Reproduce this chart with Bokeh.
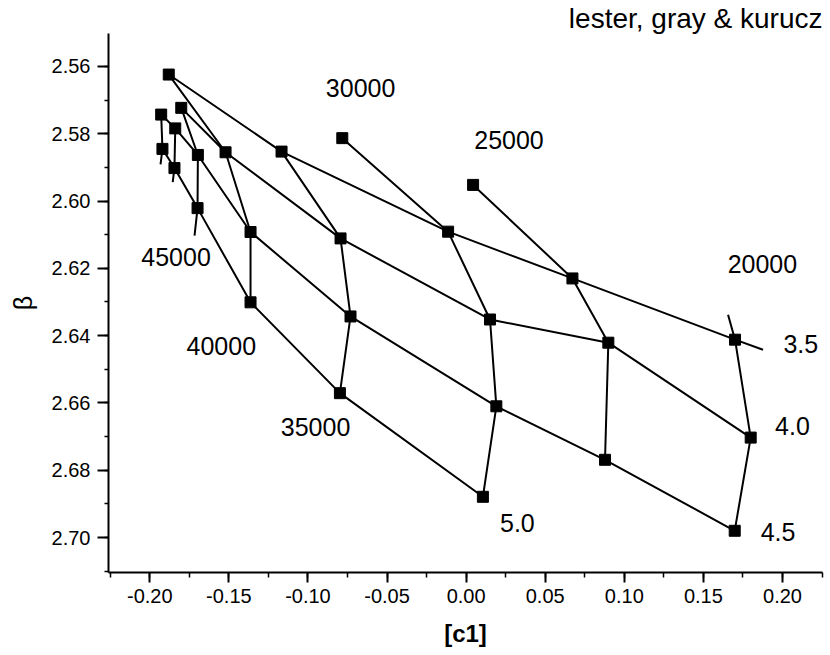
from bokeh.plotting import figure
from bokeh.models import Range1d, FixedTicker, PrintfTickFormatter
from bokeh.core.properties import value
from bokeh.embed import file_html
from bokeh.resources import INLINE

# ---- model grid ----
teff = [20000, 20000, 20000,
        25000, 25000, 25000, 25000,
        30000, 30000, 30000, 30000, 30000,
        35000, 35000, 35000, 35000,
        40000, 40000, 40000, 40000,
        45000, 45000, 45000,
        50000, 50000,
        55000, 55000]
logg = [3.5, 4.0, 4.5,
        3.0, 3.5, 4.0, 4.5,
        3.0, 3.5, 4.0, 4.5, 5.0,
        3.5, 4.0, 4.5, 5.0,
        3.5, 4.0, 4.5, 5.0,
        4.0, 4.5, 5.0,
        4.5, 5.0,
        4.5, 5.0]
c1 = [0.1700, 0.1799, 0.1698,
      0.0044, 0.0672, 0.0899, 0.0878,
      -0.0783, -0.0114, 0.0151, 0.0191, 0.0106,
      -0.1167, -0.0794, -0.0731, -0.0798,
      -0.1880, -0.1521, -0.1363, -0.1363,
      -0.1801, -0.1696, -0.1698,
      -0.1839, -0.1844,
      -0.1928, -0.1920]
beta = [2.6412, 2.6703, 2.6980,
        2.5952, 2.6230, 2.6421, 2.6769,
        2.5813, 2.6091, 2.6352, 2.6610, 2.6879,
        2.5853, 2.6111, 2.6343, 2.6571,
        2.5624, 2.5855, 2.6092, 2.6301,
        2.5723, 2.5863, 2.6021,
        2.5784, 2.5902,
        2.5743, 2.5845]

# line ends drawn without a marker
teff_stub_teff = [20000, 45000, 50000, 55000]
teff_stub_logg = [3.0, 5.5, 5.5, 5.5]
teff_stub_c1 = [0.1656, -0.1717, -0.1855, -0.1932]
teff_stub_beta = [2.6338, 2.6103, 2.5944, 2.5891]
logg_stub_logg = [3.5]
logg_stub_c1 = [0.1877]
logg_stub_beta = [2.6442]

# annotations
teff_labels = ["30000", "25000", "20000", "45000", "40000", "35000"]
teff_label_c1 = [-0.0667, 0.0271, 0.1873, -0.1834, -0.1548, -0.0952]
teff_label_beta = [2.5664, 2.5818, 2.6187, 2.6167, 2.6430, 2.6673]
logg_labels = ["3.5", "4.0", "4.5", "5.0"]
logg_label_c1 = [0.2116, 0.2063, 0.1972, 0.0324]
logg_label_beta = [2.6425, 2.6668, 2.6983, 2.6956]

x_ticks = [-0.20, -0.15, -0.10, -0.05, 0.00, 0.05, 0.10, 0.15, 0.20]
y_ticks = [2.56, 2.58, 2.60, 2.62, 2.64, 2.66, 2.68, 2.70]

FONT = "Liberation Sans"

p = figure(width=830, height=655,
           x_range=Range1d(-0.2261, 0.2253),
           y_range=Range1d(2.7104, 2.5502),
           output_backend="svg", toolbar_location=None,
           min_border_left=108, min_border_right=8,
           min_border_top=33, min_border_bottom=83,
           title="lester, gray & kurucz")
p.title.align = "right"
p.title.text_font = FONT
p.title.text_font_size = "28px"
p.title.text_font_style = "normal"
p.title.text_color = "black"
p.title.standoff = 0
p.title.offset = 0

p.outline_line_color = None
p.xgrid.visible = False
p.ygrid.visible = False
p.background_fill_color = "white"
p.border_fill_color = "white"

LW = 2
# lines of constant Teff
for t in sorted(set(teff)):
    pts = [(g, x, y) for tt, g, x, y in zip(teff, logg, c1, beta) if tt == t]
    pts += [(g, x, y) for tt, g, x, y in zip(teff_stub_teff, teff_stub_logg, teff_stub_c1, teff_stub_beta) if tt == t]
    pts.sort()
    p.line([q[1] for q in pts], [q[2] for q in pts], line_color="black", line_width=LW)

# lines of constant log g (3.0 not connected)
for g in sorted(set(logg)):
    if g == 3.0:
        continue
    pts = [(-tt, x, y) for tt, gg, x, y in zip(teff, logg, c1, beta) if gg == g]
    pts.sort()
    xs = [q[1] for q in pts]
    ys = [q[2] for q in pts]
    for gg, x, y in zip(logg_stub_logg, logg_stub_c1, logg_stub_beta):
        if gg == g:
            xs.append(x)
            ys.append(y)
    p.line(xs, ys, line_color="black", line_width=LW)

p.scatter(c1, beta, marker="square", size=11, fill_color="black", line_color="black")

p.text(teff_label_c1, teff_label_beta, text=teff_labels, text_align="center",
       text_baseline="middle", text_font=value(FONT), text_font_size="25px", text_color="black")
p.text(logg_label_c1, logg_label_beta, text=logg_labels, text_align="center",
       text_baseline="middle", text_font=value(FONT), text_font_size="25px", text_color="black")

minor_x = [round(-0.225 + 0.025 * i, 3) for i in range(19)]
minor_y = [round(2.55 + 0.01 * i, 2) for i in range(17)]
p.xaxis.ticker = FixedTicker(ticks=x_ticks, minor_ticks=minor_x)
p.yaxis.ticker = FixedTicker(ticks=y_ticks, minor_ticks=minor_y)
p.xaxis.formatter = PrintfTickFormatter(format="%.2f")
p.yaxis.formatter = PrintfTickFormatter(format="%.2f")

for ax in (p.xaxis, p.yaxis):
    ax.axis_line_width = 2
    ax.axis_line_color = "black"
    ax.major_tick_line_width = 2
    ax.major_tick_line_color = "black"
    ax.minor_tick_line_width = 1.5
    ax.minor_tick_line_color = "black"
    ax.major_tick_in = 0
    ax.minor_tick_in = 0
    ax.major_label_text_font = FONT
    ax.major_label_text_font_size = "20px"
    ax.major_label_text_color = "black"
    ax.axis_label_text_font = FONT
    ax.axis_label_text_color = "black"

p.xaxis.major_tick_out = 10
p.xaxis.minor_tick_out = 5
p.yaxis.major_tick_out = 11
p.yaxis.minor_tick_out = 4
p.xaxis.major_label_standoff = 6
p.yaxis.major_label_standoff = 7

p.xaxis.axis_label = "[c1]"
p.xaxis.axis_label_text_font_size = "24px"
p.xaxis.axis_label_text_font_style = "bold"
p.xaxis.axis_label_standoff = 14

p.yaxis.axis_label = "β"
p.yaxis.axis_label_text_font_size = "25px"
p.yaxis.axis_label_text_font_style = "normal"
p.yaxis.axis_label_standoff = 12

open("out.html", "w").write(file_html(p, INLINE))
